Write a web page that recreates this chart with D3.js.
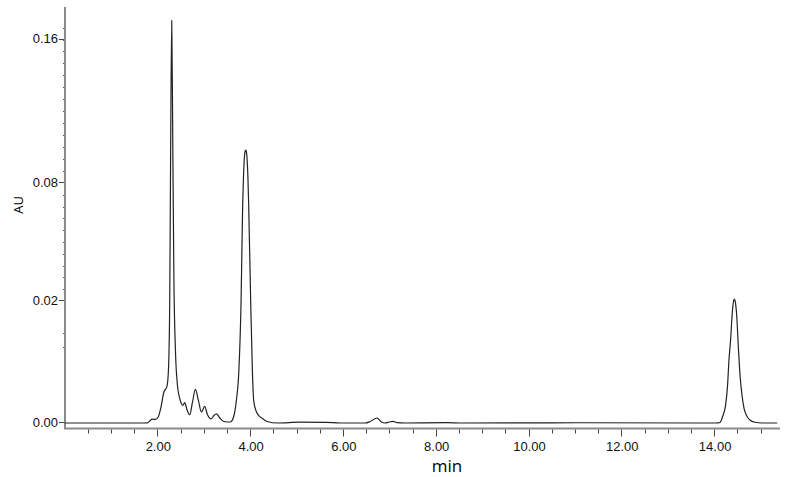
<!DOCTYPE html>
<html><head><meta charset="utf-8">
<script src="https://cdn.jsdelivr.net/npm/d3@7"></script>
<style>html,body{margin:0;padding:0;background:#fff}svg{display:block}</style>
</head><body>
<svg id="c" width="785" height="477"></svg>
<script>
// Retention time (min) and absorbance (AU)
const timeMin = [0.0, 1.637, 1.79, 1.889, 1.96, 2.025, 2.078, 2.139, 2.208, 2.24, 2.268, 2.289, 2.311, 2.333, 2.358, 2.391, 2.434, 2.477, 2.509, 2.548, 2.591, 2.638, 2.699, 2.757, 2.821, 2.886, 2.951, 3.022, 3.08, 3.16, 3.22, 3.274, 3.339, 3.431, 3.575, 3.64, 3.704, 3.758, 3.806, 3.84, 3.857, 3.873, 3.889, 3.905, 3.921, 3.937, 3.953, 3.969, 4.012, 4.049, 4.077, 4.124, 4.185, 4.265, 4.366, 4.59, 5.08, 5.64, 5.94, 6.48, 6.59, 6.735, 6.83, 6.91, 7.0, 7.08, 7.17, 7.34, 8.25, 8.53, 11.11, 13.7, 14.04, 14.125, 14.19, 14.247, 14.29, 14.32, 14.355, 14.388, 14.415, 14.437, 14.458, 14.486, 14.522, 14.559, 14.602, 14.645, 14.71, 14.77, 14.88, 15.03, 15.36];
const absorbance = [0.0, 0.0, 0.00003, 0.00063, 0.00058, 0.00107, 0.00255, 0.0050, 0.0060, 0.0086, 0.0205, 0.1039, 0.1706, 0.1039, 0.0307, 0.0119, 0.0062, 0.0042, 0.00337, 0.00288, 0.00333, 0.00222, 0.00135, 0.00337, 0.0055, 0.0037, 0.00178, 0.00272, 0.0014, 0.00069, 0.00123, 0.00151, 0.0009, 0.00025, 0.00016, 0.0009, 0.0037, 0.0086, 0.0205, 0.0690, 0.0830, 0.0925, 0.0972, 0.0983, 0.0972, 0.0925, 0.0830, 0.0690, 0.0205, 0.0086, 0.0037, 0.00206, 0.00123, 0.00074, 0.00025, 0.0, 0.00013, 0.0001, 0.0, 0.0, 0.00025, 0.00082, 0.00016, 0.0, 0.00016, 0.00028, 0.00005, 0.0, 0.00005, 0.0, 0.00004, 0.0, 0.0, 0.00008, 0.00123, 0.00288, 0.0062, 0.0103, 0.0136, 0.0177, 0.0198, 0.0210, 0.0198, 0.0177, 0.0125, 0.0078, 0.0045, 0.0024, 0.00107, 0.0005, 0.00012, 0.0, 0.0];

// Axis tick labels as printed on the reference
const yTickValues = [0.00, 0.02, 0.08, 0.16];
const xTickValues = [2, 4, 6, 8, 10, 12, 14];
const xAxisTitle = "min";
const yAxisTitle = "AU";

const svg = d3.select("#c");
const x = d3.scaleLinear().domain([0, 15.42]).range([64.5, 780]);
// the printed scale is piecewise: its labels are not evenly spaced in value
const y = d3.scaleLinear().domain(yTickValues).range([423, 301, 183, 39.5]);

const axisColor = "#8a8a8a";
const left = 65, bottom = 428.5;

svg.append("line").attr("x1", left).attr("x2", left).attr("y1", 7).attr("y2", bottom)
  .attr("stroke", axisColor).attr("stroke-width", 2);
svg.append("line").attr("x1", left - 1).attr("x2", 780).attr("y1", bottom).attr("y2", bottom)
  .attr("stroke", axisColor).attr("stroke-width", 2);

// y minor ticks (small dots)
const yMinor = [];
d3.range(1, 14).forEach(i => yMinor.push(0.08 + i * 0.08 / 12));
d3.range(1, 10).forEach(i => yMinor.push(0.02 + i * 0.06 / 10));
yMinor.push(0.0147, 0.0125);
svg.append("g").selectAll("line").data(yMinor).join("line")
  .attr("x1", left - 2).attr("x2", left - 1)
  .attr("y1", d => Math.round(y(d)) + 0.5).attr("y2", d => Math.round(y(d)) + 0.5)
  .attr("stroke", "#555").attr("stroke-width", 1);

// y major ticks and labels
const yg = svg.append("g");
yg.selectAll("line").data(yTickValues).join("line")
  .attr("x1", left - 6).attr("x2", left - 1)
  .attr("y1", d => Math.round(y(d)) - 0.5).attr("y2", d => Math.round(y(d)) - 0.5)
  .attr("stroke", "#444").attr("stroke-width", 1);
yg.selectAll("text").data(yTickValues).join("text")
  .attr("x", left - 7).attr("y", d => y(d) - 1).attr("dy", "0.35em")
  .attr("text-anchor", "end")
  .attr("font-family", "Liberation Sans, Arial, sans-serif").attr("font-size", 13)
  .attr("fill", "#111")
  .text(d => d3.format(".2f")(d));

// x minor ticks every 0.5 min
const xMinor = d3.range(0.5, 15.01, 0.5);
svg.append("g").selectAll("line").data(xMinor).join("line")
  .attr("x1", d => Math.round(x(d)) + 0.5).attr("x2", d => Math.round(x(d)) + 0.5)
  .attr("y1", bottom + 1).attr("y2", d => xTickValues.includes(d) ? bottom + 8 : bottom + 5)
  .attr("stroke", "#444").attr("stroke-width", 1);

svg.append("g").selectAll("text").data(xTickValues).join("text")
  .attr("x", d => x(d) + 1).attr("y", 446).attr("dy", "0.35em")
  .attr("text-anchor", "middle")
  .attr("font-family", "Liberation Sans, Arial, sans-serif").attr("font-size", 13)
  .attr("fill", "#111")
  .text(d => d3.format(".2f")(d));

svg.append("text").attr("x", 447).attr("y", 466).attr("dy", "0.35em")
  .attr("text-anchor", "middle")
  .attr("font-family", "Open Sans, DejaVu Sans, sans-serif").attr("font-size", 17)
  .attr("fill", "#000").text(xAxisTitle);
svg.append("text").attr("transform", "translate(18,205) rotate(-90)")
  .attr("text-anchor", "middle").attr("dy", "0.35em")
  .attr("font-family", "Open Sans, DejaVu Sans, sans-serif").attr("font-size", 13)
  .attr("fill", "#000").text(yAxisTitle);

const pts = timeMin.map((t, i) => [t, absorbance[i]]);
const line = d3.line().x(d => x(d[0])).y(d => y(d[1])).curve(d3.curveMonotoneX);
svg.append("path").datum(pts).attr("d", line)
  .attr("fill", "none").attr("stroke", "#222").attr("stroke-width", 1.2)
  .attr("stroke-linejoin", "round");
</script>
</body></html>
